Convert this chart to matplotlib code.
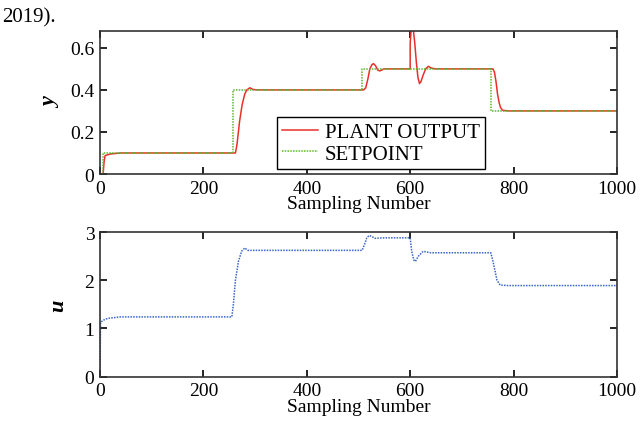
import numpy as np
import matplotlib
matplotlib.use('Agg')
import matplotlib.pyplot as plt

# setpoint (step changes)
sp_k = [0, 5, 5, 258, 258, 507, 507, 757, 757, 1000]
sp_y = [0, 0, 0.1, 0.1, 0.4, 0.4, 0.5, 0.5, 0.3, 0.3]

# plant output
y_k = [0, 6, 8, 10, 20, 40, 100, 200, 262, 265, 270, 275, 280, 284, 290, 296, 305, 400, 510, 514,
       518, 522, 526, 529, 533, 537, 541, 550, 600, 600, 602, 604, 606, 609, 612, 615, 618, 621,
       625, 630, 635, 640, 648, 660, 760, 763, 766, 769, 772, 775, 779, 790, 1000]
y_v = [0, 0, 0.06, 0.088, 0.095, 0.1, 0.1, 0.1, 0.1, 0.14, 0.25, 0.33, 0.38, 0.40, 0.41, 0.402, 0.4, 0.4, 0.4, 0.41,
       0.45, 0.5, 0.52, 0.525, 0.515, 0.495, 0.49, 0.5, 0.5, 0.62, 0.69, 0.71, 0.69, 0.62, 0.53, 0.46, 0.43, 0.44,
       0.47, 0.5, 0.512, 0.505, 0.5, 0.5, 0.5, 0.485, 0.44, 0.38, 0.34, 0.315, 0.303, 0.3, 0.3]

# control signal
u_k = [0, 1, 2, 6, 15, 40, 100, 255, 258, 262, 268, 274, 280, 286, 300, 400, 507, 512,
       516, 521, 527, 532, 550, 600, 603, 607, 610, 616, 625, 640, 700, 756, 760, 764,
       768, 774, 790, 1000]
u_v = [0, 1.1, 1.13, 1.17, 1.21, 1.24, 1.24, 1.24, 1.5, 2.0, 2.4, 2.6, 2.67, 2.62, 2.62, 2.62, 2.62, 2.75,
       2.88, 2.93, 2.9, 2.87, 2.88, 2.88, 2.6, 2.42, 2.39, 2.5, 2.6, 2.57, 2.57, 2.57, 2.4, 2.2,
       2.0, 1.9, 1.89, 1.89]

plt.rcParams['font.family'] = ['Liberation Serif', 'DejaVu Serif']
plt.rcParams['font.size'] = 14

fig = plt.figure(figsize=(6.43, 4.35), dpi=100)
ax1 = fig.add_axes([0.1555, 0.5977, 0.804, 0.3287])
ax2 = fig.add_axes([0.1555, 0.1317, 0.804, 0.3326])

ax1.plot(y_k, y_v, color='#e8302a', lw=1.1, label='PLANT OUTPUT')
ax1.plot(sp_k, sp_y, color='#5cb82e', lw=1.1, ls=(0, (1, 0.8)), label='SETPOINT')
ax1.set_xlim(0, 1000)
ax1.set_ylim(0, 0.68)
ax1.set_yticks([0, 0.2, 0.4, 0.6])
ax1.set_yticklabels(['0', '0.2', '0.4', '0.6'])
ax1.set_ylabel('y', fontweight='bold', fontstyle='italic', fontsize=16, labelpad=6)
ax1.set_xlabel('Sampling Number', labelpad=-1)
leg = ax1.legend(loc='lower left', bbox_to_anchor=(0.342, 0.035), borderaxespad=0,
                 fancybox=False, edgecolor='black', framealpha=1, fontsize=15,
                 handlelength=1.75, handletextpad=0.3, borderpad=0.25, labelspacing=0.1)
leg.get_frame().set_linewidth(1.0)

ax2.plot(u_k, u_v, color='#3a66c4', lw=1.1, ls=(0, (1, 0.8)))
ax2.set_xlim(0, 1000)
ax2.set_ylim(0, 3)
ax2.set_yticks([0, 1, 2, 3])
ax2.set_ylabel('u', fontweight='bold', fontstyle='italic', fontsize=16, labelpad=12)
ax2.set_xlabel('Sampling Number', labelpad=-1)

for ax in (ax1, ax2):
    ax.set_xticks([0, 200, 400, 600, 800, 1000])
    ax.tick_params(direction='in', length=5, width=1.2, top=True, right=True, pad=4)
    for s in ax.spines.values():
        s.set_linewidth(1.2)
        s.set_color('#333333')

fig.text(0.003, 0.958, '2019).', fontsize=15, va='center')

fig.savefig('out.png', dpi=100)
